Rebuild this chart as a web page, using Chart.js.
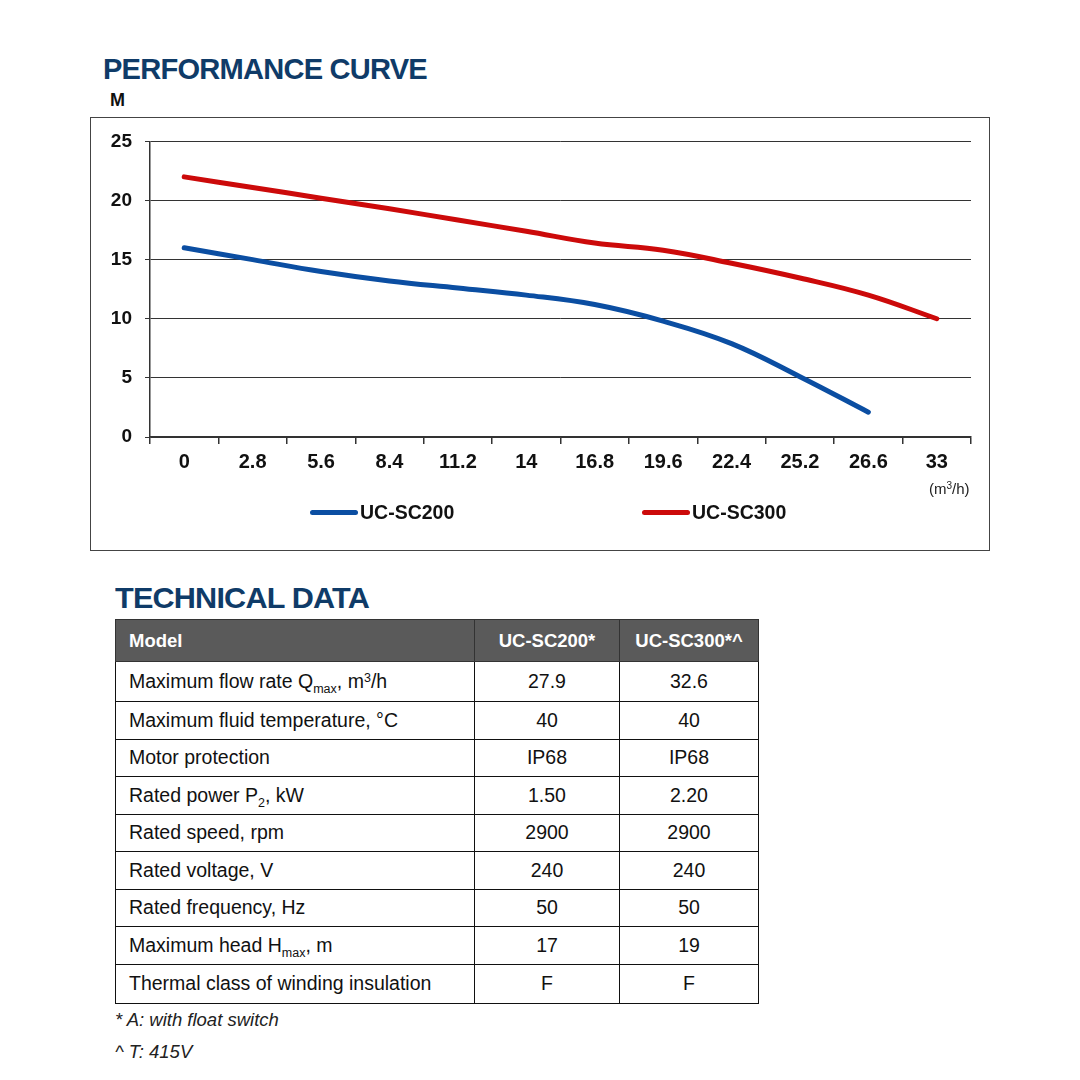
<!DOCTYPE html>
<html><head><meta charset="utf-8">
<script src="https://cdn.jsdelivr.net/npm/chart.js@4.4.0/dist/chart.umd.min.js"></script>
<style>
html,body{margin:0;padding:0;background:#fff;width:1080px;height:1080px;overflow:hidden;font-family:"Liberation Sans",Arial,sans-serif;}
.head{position:absolute;font-weight:bold;color:#0f3b68;font-size:30px;line-height:30px;letter-spacing:-0.8px;white-space:nowrap;transform-origin:0 0;}
#box{position:absolute;left:90px;top:117px;width:900px;height:434px;border:1.5px solid #444;box-sizing:border-box;}
#wrap{position:absolute;left:90px;top:117px;width:900px;height:433px;}
.txt{position:absolute;white-space:nowrap;}
.leg{position:absolute;display:flex;align-items:center;font-family:"Liberation Sans Narrow","Liberation Sans",Arial,sans-serif;font-weight:bold;font-size:19.5px;color:#111;}
.leg span.sw{display:inline-block;width:48px;height:5px;border-radius:3px;margin-right:2px;}
table{position:absolute;left:115px;top:619px;border-collapse:collapse;table-layout:fixed;width:643px;font-size:19.5px;color:#111;}
td,th{border:1.5px solid #111;padding:0 0 0 13px;height:37.5px;box-sizing:border-box;}
th{background:#5a5a5a;color:#fff;font-weight:bold;text-align:left;height:42px;border-color:#333;font-size:18.5px;}
td.c,th.c{text-align:center;padding:0;}
sub{font-size:12.5px;vertical-align:-5px;line-height:0;}
sup{font-size:12.5px;vertical-align:6px;line-height:0;}
.fn{position:absolute;left:115px;font-style:italic;font-size:18.5px;color:#222;font-family:"Liberation Sans Narrow","Liberation Sans",Arial,sans-serif;}
</style></head>
<body>
<div class="head" id="t1" style="left:103px;top:54px;">PERFORMANCE CURVE</div>
<div class="txt" style="left:110px;top:90px;font-weight:bold;font-size:18px;color:#111;">M</div>
<div id="box"></div>
<div id="wrap"><canvas id="c"></canvas></div>
<div class="txt" style="left:929px;top:480px;font-size:15px;color:#222;font-family:'Liberation Sans Narrow','Liberation Sans',Arial,sans-serif;">(m<sup style="font-size:10px;vertical-align:5px;">3</sup>/h)</div>
<div id="legend"></div>

<div class="head" id="t2" style="left:115px;top:583px;">TECHNICAL DATA</div>
<table>
<colgroup><col style="width:359px"><col style="width:145px"><col style="width:139px"></colgroup>
<tr><th>Model</th><th class="c">UC-SC200*</th><th class="c">UC-SC300*^</th></tr>
<tr style="height:40px"><td style="height:40px">Maximum flow rate Q<sub>max</sub>, m<sup>3</sup>/h</td><td class="c">27.9</td><td class="c">32.6</td></tr>
<tr><td>Maximum fluid temperature, °C</td><td class="c">40</td><td class="c">40</td></tr>
<tr><td>Motor protection</td><td class="c">IP68</td><td class="c">IP68</td></tr>
<tr><td>Rated power P<sub>2</sub>, kW</td><td class="c">1.50</td><td class="c">2.20</td></tr>
<tr><td>Rated speed, rpm</td><td class="c">2900</td><td class="c">2900</td></tr>
<tr><td>Rated voltage, V</td><td class="c">240</td><td class="c">240</td></tr>
<tr><td>Rated frequency, Hz</td><td class="c">50</td><td class="c">50</td></tr>
<tr><td>Maximum head H<sub>max</sub>, m</td><td class="c">17</td><td class="c">19</td></tr>
<tr style="height:39px"><td style="height:39px">Thermal class of winding insulation</td><td class="c">F</td><td class="c">F</td></tr>
</table>
<div class="fn" style="top:1009px;">* A: with float switch</div>
<div class="fn" style="top:1041px;">^ T: 415V</div>

<script>
const categories = ['0','2.8','5.6','8.4','11.2','14','16.8','19.6','22.4','25.2','26.6','33'];
const sc200 = [16, 15.0, 14.0, 13.2, 12.6, 12.0, 11.2, 9.8, 7.9, 5.1, 2.1, null];
const sc300 = [22, 21.1, 20.2, 19.3, 18.35, 17.4, 16.4, 15.8, 14.7, 13.45, 12.0, 10.0];
const seriesNames = ['UC-SC200', 'UC-SC300'];
const seriesColors = ['#0b4ea2', '#cc0a0a'];
const yTicks = [0, 5, 10, 15, 20, 25];

const narrow = '"Liberation Sans Narrow","Liberation Sans",Arial,sans-serif';
const chart = new Chart(document.getElementById('c'), {
  type: 'line',
  data: {
    labels: categories,
    datasets: [sc200, sc300].map((d, i) => ({
      label: seriesNames[i], data: d, borderColor: seriesColors[i], backgroundColor: seriesColors[i],
      borderWidth: 5, pointRadius: 0, tension: 0.4, borderCapStyle: 'round', borderJoinStyle: 'round', spanGaps: false
    }))
  },
  options: {
    responsive: true, maintainAspectRatio: false, animation: false,
    layout: { padding: { left: 0, right: 19, top: 22, bottom: 0 } },
    plugins: { legend: { display: false }, tooltip: { enabled: false } },
    scales: {
      x: {
        type: 'category', offset: true,
        grid: { offset: true, drawOnChartArea: false, drawTicks: true, tickLength: 7, color: '#333', lineWidth: 1.5 },
        border: { display: true, color: '#333', width: 1.5 },
        ticks: { color: '#111', padding: 6, maxRotation: 0, autoSkip: false, font: { family: narrow, size: 20, weight: 'bold' } },
        afterFit: s => { s.height = 113; }
      },
      y: {
        min: 0, max: 25,
        afterBuildTicks: s => { s.ticks = yTicks.map(v => ({ value: v })); },
        grid: { color: '#333', lineWidth: 1, tickLength: 5, drawTicks: true },
        border: { display: true, color: '#333', width: 1.5 },
        ticks: { color: '#111', padding: 13, font: { family: '"Liberation Sans",Arial,sans-serif', size: 19, weight: 'bold' } },
        afterFit: s => { s.width = 60; }
      }
    }
  }
});

// legend built from series arrays
const legPos = [310, 642];
const lg = document.getElementById('legend');
seriesNames.forEach((n, i) => {
  const d = document.createElement('div');
  d.className = 'leg';
  d.style.left = legPos[i] + 'px';
  d.style.top = '501px';
  d.innerHTML = '<span class="sw" style="background:' + seriesColors[i] + '"></span>' + n;
  lg.appendChild(d);
});

// fit headings widths
function fit(id, w) { const el = document.getElementById(id); const r = el.getBoundingClientRect().width; el.style.transform = 'scaleX(' + (w / r) + ')'; }
fit('t1', 324); fit('t2', 254);
</script>
</body></html>
